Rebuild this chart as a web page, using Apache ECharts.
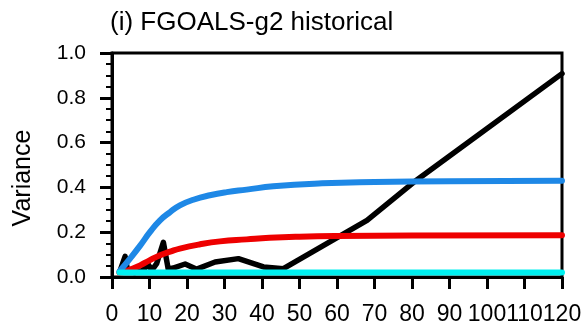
<!DOCTYPE html>
<html>
<head>
<meta charset="utf-8">
<script src="https://cdn.jsdelivr.net/npm/echarts@6/dist/echarts.min.js"></script>
<style>
  html, body { margin: 0; padding: 0; background: #fff; }
  #variance_chart { width: 585px; height: 327px; }
</style>
</head>
<body>
<div id="variance_chart"></div>
<script>
// values
var x_ticks = [0, 10, 20, 30, 40, 50, 60, 70, 80, 90, 100, 110, 120];
var y_ticks = [0.0, 0.2, 0.4, 0.6, 0.8, 1.0];

var black_x = [2, 3.5, 4.2, 6, 8, 9.7, 10.6, 11.9, 13.7, 15, 16.3, 19.5, 22.6, 27.5, 33.7, 40.4, 45.7, 68, 81, 120];
var black_y = [0.02, 0.092, 0.025, 0.02, 0.028, 0.055, 0.03, 0.06, 0.155, 0.035, 0.04, 0.058, 0.035, 0.067, 0.082, 0.045, 0.037, 0.253, 0.43, 0.908];

var red_x = [2, 3.5, 5, 7.5, 10, 12.8, 15.5, 18.1, 23.5, 28.8, 35.9, 42, 50, 60, 80, 120];
var red_y = [0.02, 0.024, 0.034, 0.052, 0.074, 0.097, 0.113, 0.127, 0.146, 0.159, 0.168, 0.175, 0.18, 0.183, 0.185, 0.186];

var blue_x = [2, 4.8, 7.5, 10.1, 12.8, 15.5, 18.1, 21.7, 26.1, 30.6, 35.9, 43, 56, 70, 90, 120];
var blue_y = [0.025, 0.082, 0.14, 0.2, 0.253, 0.29, 0.32, 0.345, 0.365, 0.379, 0.39, 0.405, 0.418, 0.424, 0.428, 0.43];

var cyan_x = [2, 20, 40, 60, 80, 100, 120];
var cyan_y = [0.02, 0.02, 0.02, 0.02, 0.02, 0.02, 0.02];

function pairs(xs, ys) {
    var out = [];
    for (var i = 0; i < xs.length; i++) {
        out.push([xs[i], ys[i]]);
    }
    return out;
}

var font = '"Liberation Sans", Arial, sans-serif';
var variance_chart = echarts.init(document.getElementById("variance_chart"));

variance_chart.setOption({
    animation: false,
    title: {
        text: '(i) FGOALS-g2 historical',
        left: 110,
        top: 10,
        padding: 0,
        textStyle: {
            fontFamily: font,
            fontSize: 26,
            fontWeight: 'normal',
            color: '#000'
        }
    },
    graphic: [
        {
            type: 'text',
            x: 23,
            y: 178,
            rotation: Math.PI / 2,
            style: {
                text: 'Variance',
                font: '25px ' + font,
                fill: '#000',
                textAlign: 'center',
                textVerticalAlign: 'middle'
            }
        }
    ],
    grid: {
        left: 112,
        right: 23,
        top: 53,
        bottom: 50,
        show: true,
        borderColor: '#000',
        borderWidth: 3,
        outerBoundsMode: 'none'
    },
    xAxis: {
        type: 'value',
        min: x_ticks[0],
        max: x_ticks[x_ticks.length - 1],
        interval: 10,
        splitLine: {show: false},
        axisLine: {show: true, lineStyle: {color: '#000', width: 3}},
        axisTick: {show: true, length: 12, lineStyle: {color: '#000', width: 3}},
        axisLabel: {
            margin: 26,
            fontFamily: font,
            fontSize: 23,
            color: '#000'
        }
    },
    yAxis: {
        type: 'value',
        min: y_ticks[0],
        max: y_ticks[y_ticks.length - 1],
        interval: 0.2,
        splitLine: {show: false},
        axisLine: {show: true, lineStyle: {color: '#000', width: 3}},
        axisTick: {show: true, length: 12, lineStyle: {color: '#000', width: 3}},
        minorTick: {show: true, splitNumber: 4, length: 6, lineStyle: {color: '#000', width: 2}},
        axisLabel: {
            margin: 26,
            fontFamily: font,
            fontSize: 21,
            color: '#000',
            formatter: function (v) { return v.toFixed(1); }
        }
    },
    series: [
        {
            name: 'black',
            type: 'line',
            showSymbol: false,
            data: pairs(black_x, black_y),
            lineStyle: {color: '#000', width: 5.5, cap: 'round', join: 'round'}
        },
        {
            name: 'red',
            type: 'line',
            smooth: true,
            showSymbol: false,
            data: pairs(red_x, red_y),
            lineStyle: {color: '#ee0000', width: 6, cap: 'round'}
        },
        {
            name: 'blue',
            type: 'line',
            smooth: true,
            showSymbol: false,
            data: pairs(blue_x, blue_y),
            lineStyle: {color: '#1e88e6', width: 6, cap: 'round'}
        },
        {
            name: 'cyan',
            type: 'line',
            showSymbol: false,
            data: pairs(cyan_x, cyan_y),
            lineStyle: {color: '#00f0f0', width: 6, cap: 'round'}
        }
    ]
});
</script>
</body>
</html>
